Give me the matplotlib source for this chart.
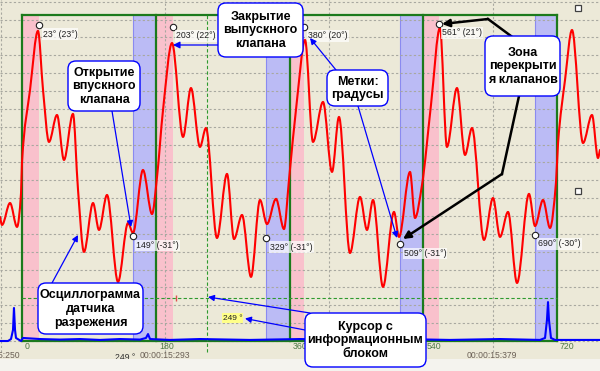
import matplotlib
matplotlib.use("Agg")
import matplotlib.pyplot as plt
import matplotlib.transforms as mtransforms
from matplotlib.patches import FancyBboxPatch, Rectangle, PathPatch
from matplotlib.path import Path
from matplotlib.lines import Line2D

plt.rcParams['font.family'] = ['Liberation Sans', 'DejaVu Sans']

# ---------------- data ----------------
# vacuum sensor waveform: crank angle (deg) and level (grid divisions)
red_deg = [-29.6, -26.9, -16.1, -6.7, -1.3, 0.0, 10.8, 21.5, 28.3, 36.3, 47.1, 56.5, 68.6, 75.4,
           83.4, 95.6, 103.6, 114.4, 129.2, 142.7, 149.4, 162.8, 175.0, 181.7, 189.8, 201.9,
           216.7, 227.4, 239.5, 247.6, 262.4, 275.9, 285.3, 296.1, 308.2, 320.3, 329.7, 341.8,
           352.6, 359.3, 370.1, 380.9, 391.6, 405.1, 417.2, 426.6, 441.4, 454.9, 464.3, 472.4,
           485.8, 500.6, 507.4, 522.2, 528.9, 538.3, 550.4, 562.5, 571.9, 585.4, 596.2, 605.6,
           621.7, 633.9, 643.3, 654.1, 666.2, 682.3, 690.4, 701.2, 710.6, 718.7, 721.4, 730.8,
           740.2, 755.0, 767.1, 775.2, 777.8]
red_val = [6.95, 6.50, 7.73, 6.39, 8.29, 10.03, 14.06, 17.37, 14.06, 11.15, 12.66, 10.14, 12.72,
           8.46, 4.99, 7.73, 6.22, 8.18, 3.31, 6.61, 6.05, 9.58, 7.11, 9.19, 12.94, 16.69, 11.43,
           14.17, 10.87, 11.93, 5.77, 9.36, 5.71, 7.06, 3.59, 7.90, 6.55, 7.96, 6.27, 9.02, 13.50,
           16.86, 11.15, 13.39, 9.47, 12.55, 4.93, 8.07, 6.22, 7.90, 3.03, 7.23, 5.83, 9.47, 6.89,
           8.74, 13.22, 17.54, 10.87, 14.17, 10.42, 11.93, 5.66, 8.01, 5.83, 7.23, 3.25, 8.24,
           6.44, 7.90, 6.33, 8.91, 11.09, 14.62, 17.42, 11.09, 12.66, 10.25, 10.70]

# second (blue) channel
blue_deg = [-29.6, -18.8, -14.8, -12.1, -10.8, -9.4, -8.1, -1.3, 1.3, 24.2, 51.1, 78.1, 105.0,
            131.9, 158.8, 166.9, 169.6, 172.3, 199.2, 239.5, 306.8, 374.1, 441.4, 508.7, 576.0,
            643.3, 697.1, 703.9, 706.5, 707.9, 709.2, 711.9, 717.3, 777.8]
blue_val = [0.0, 0.0, 0.11, 0.62, 1.85, 0.62, 0.17, 0.0, 0.17, 0.11, 0.08, 0.11, 0.06, 0.11, 0.08,
            0.17, 0.39, 0.11, 0.06, 0.11, 0.06, 0.11, 0.06, 0.11, 0.06, 0.11, 0.06, 0.17, 1.18,
            2.18, 1.18, 0.17, 0.06, 0.06]

# cylinder boundaries and valve zones (deg)
cycle_lines = [0, 180, 360, 540, 720]
tick_labels = ['0', '180', '360', '540', '720']
overlap_zones = [(0, 23), (180, 203), (360, 380), (540, 561)]
intake_zones = [(149, 180), (329, 360), (509, 540), (690, 720)]

# marks
top_mark_deg = [23, 203, 380, 561]
top_mark_val = [17.70, 17.59, 17.59, 17.76]
top_mark_txt = ['23° (23°)', '203° (22°)', '380° (20°)', '561° (21°)']
bot_mark_deg = [149, 329, 509, 690]
bot_mark_val = [5.88, 5.77, 5.43, 5.94]
bot_mark_txt = ['149° (-31°)', '329° (-31°)', '509° (-31°)', '690° (-30°)']

cursor_deg = 249
cursor_val = 2.41
vgrid_deg = [-28.3, 192.4, 413.2, 633.9]
hgrid_val = list(range(0, 20))

# ---------------- figure ----------------
W, H = 600, 371
fig = plt.figure(figsize=(6.0, 3.71), dpi=100)
fig.patch.set_facecolor('#ECE9D8')
ax = fig.add_axes([0, 0, 1, 1])
ax.set_facecolor('#ECE9D8')
ax.set_xlim(-29.61, 777.87)
ax.set_ylim(-1.68, 19.10)
ax.axis('off')

# pixel transform for annotation layer
P = mtransforms.Affine2D().scale(1.0 / W, -1.0 / H).translate(0, 1) + fig.transFigure

top_v, bot_v = 18.26, 0.0

# bands
for a, b in overlap_zones:
    ax.add_patch(Rectangle((a, bot_v), b - a, top_v - bot_v, fc='#F9C1CC', ec='none', zorder=1))
for a, b in intake_zones:
    ax.add_patch(Rectangle((a, bot_v), b - a, top_v - bot_v, fc='#BBBBF5', ec='none', zorder=1))
    ax.plot([a, a], [bot_v, top_v], color='#8A8AF0', lw=0.8, zorder=1.2)

# grid
for v in hgrid_val:
    ax.axhline(v, color='#A8A8A0', lw=0.8, ls=(0, (2, 2)), zorder=1.5)
for d in vgrid_deg:
    ax.plot([d, d], [-0.6, 19.1], color='#A8A8A0', lw=0.8, ls=(0, (2, 2)), zorder=1.5)

# frame of the cycle
for d in cycle_lines:
    ax.plot([d, d], [bot_v, top_v], color='#1C7A1C', lw=1.6, zorder=2)
ax.plot([cycle_lines[0], cycle_lines[-1]], [top_v, top_v], color='#1C7A1C', lw=1.6, zorder=2)
ax.plot([cycle_lines[0], cycle_lines[-1]], [bot_v, bot_v], color='#1C7A1C', lw=1.6, zorder=2)

# cursor
ax.plot([cursor_deg, cursor_deg], [-0.6, top_v], color='#2E9A2E', lw=0.8, ls=(0, (3, 2)), zorder=2.2)
ax.plot([cycle_lines[0], cycle_lines[-1]], [cursor_val, cursor_val], color='#2E9A2E', lw=0.8,
        ls=(0, (3, 2)), zorder=2.2)


def smooth_path(xs, ys):
    """Monotone cubic (PCHIP-style) Bezier path through the given points."""
    n = len(xs)
    h = [xs[i + 1] - xs[i] for i in range(n - 1)]
    d = [(ys[i + 1] - ys[i]) / h[i] for i in range(n - 1)]
    m = [0.0] * n
    m[0], m[-1] = d[0], d[-1]
    for i in range(1, n - 1):
        if d[i - 1] * d[i] <= 0:
            m[i] = 0.0
        else:
            w1 = 2 * h[i] + h[i - 1]
            w2 = h[i] + 2 * h[i - 1]
            m[i] = (w1 + w2) / (w1 / d[i - 1] + w2 / d[i])
    verts = [(xs[0], ys[0])]
    codes = [Path.MOVETO]
    for i in range(n - 1):
        verts += [(xs[i] + h[i] / 3, ys[i] + m[i] * h[i] / 3),
                  (xs[i + 1] - h[i] / 3, ys[i + 1] - m[i + 1] * h[i] / 3),
                  (xs[i + 1], ys[i + 1])]
        codes += [Path.CURVE4] * 3
    return Path(verts, codes)


# traces
ax.plot(blue_deg, blue_val, color='#0000FF', lw=1.5, zorder=3, solid_joinstyle='round')
ax.add_patch(PathPatch(smooth_path(red_deg, red_val), fill=False, ec='#FF0000', lw=1.5,
                       joinstyle='round', capstyle='round', zorder=4))

# marks
lab_kw = dict(fontsize=6.3, color='#202020', zorder=6, va='center', ha='left',
              bbox=dict(boxstyle='square,pad=0.12', fc='white', ec='none', alpha=0.7))
for d, v, t in zip(top_mark_deg + bot_mark_deg, top_mark_val + bot_mark_val, top_mark_txt + bot_mark_txt):
    ax.plot([d], [v], marker='o', ms=4.6, mfc='white', mec='#202020', mew=0.8, zorder=6)
    ax.annotate(t, (d, v), xytext=(2.5, -6.5), textcoords='offset points', **lab_kw)

# axis labels under the plot
for d, t in zip(cycle_lines, tick_labels):
    ax.annotate(t, (d, bot_v), xytext=(2.2, -3.9), textcoords='offset points', fontsize=6.3,
                color='#4E7A46', ha='left', va='center', zorder=5)
ax.text(20, 355, '00:00:15:250', transform=P, fontsize=6.2, color='#6B6056', ha='right', va='center')
ax.text(140, 355, '00:00:15:293', transform=P, fontsize=6.2, color='#6B6056', ha='left', va='center')
ax.text(467, 355, '00:00:15:379', transform=P, fontsize=6.2, color='#6B6056', ha='left', va='center')
ax.text(115, 357.5, '249 °', transform=P, fontsize=6.2, color='#303030', ha='left', va='center', zorder=5)

# bottom light strip
ax.add_patch(Rectangle((0, 359), W, H - 359, transform=P, fc='#F4F3EE', ec='none', zorder=8))

# little squares
for (x, y) in [(578, 8), (578, 191)]:
    ax.add_patch(Rectangle((x - 3, y - 3), 6, 6, transform=P, fc='white', ec='#404040', lw=0.9, zorder=9))

# cursor info box
ax.add_patch(Rectangle((222, 313), 21, 10, transform=P, fc='#FFFF88', ec='none', zorder=9))
ax.text(232.5, 318.5, '249 °', transform=P, fontsize=6, color='#202020', ha='center', va='center', zorder=9.5)
ax.plot([207], [cursor_val], marker='|', ms=5, color='#E05050', zorder=5)

# ---------------- callouts ----------------
def callout(x0, y0, x1, y1, text):
    ax.add_patch(FancyBboxPatch((x0, y0), x1 - x0, y1 - y0, transform=P,
                                boxstyle='round,pad=0,rounding_size=8', fc='white', ec='#0000FF',
                                lw=1.0, zorder=11))
    ax.text((x0 + x1) / 2, (y0 + y1) / 2 + 0.5, text, transform=P, ha='center', va='center',
            fontsize=9, fontweight='bold', color='black', linespacing=1.2, zorder=12)

def arrow(x0, y0, x1, y1, color='#0000FF', lw=0.9, ms=9):
    ax.annotate('', xy=(x1, y1), xytext=(x0, y0), xycoords=P, textcoords=P,
                arrowprops=dict(arrowstyle='-|>', color=color, lw=lw, mutation_scale=ms,
                                shrinkA=0, shrinkB=0), zorder=10)

arrow(218, 45, 173, 45, ms=10)
arrow(112, 111, 131, 227)
arrow(336, 70, 310, 38)
arrow(358, 106, 397, 238)
arrow(52, 283, 78, 235)
arrow(310, 313, 208, 297)
arrow(305, 330, 245, 318.5)

ax.add_line(Line2D([511, 488], [36, 19], transform=P, color='black', lw=1.8, zorder=10))
arrow(488, 19, 442, 24, color='black', lw=1.8, ms=11)
ax.add_line(Line2D([519, 502], [96, 174], transform=P, color='black', lw=1.8, zorder=10))
arrow(502, 174, 403, 239, color='black', lw=1.8, ms=11)

callout(218, 3, 303, 57, 'Закрытие\nвыпускного\nклапана')
callout(68, 61, 140, 111, 'Открытие\nвпускного\nклапана')
callout(327, 70, 388, 106, 'Метки:\nградусы')
callout(485, 36, 560, 96, 'Зона\nперекрыти\nя клапанов')
callout(38, 283, 143, 334, 'Осциллограмма\nдатчика\nразрежения')
callout(305, 313, 426, 367, 'Курсор с\nинформационным\nблоком')

fig.savefig('out.png', dpi=100, facecolor=fig.get_facecolor())
